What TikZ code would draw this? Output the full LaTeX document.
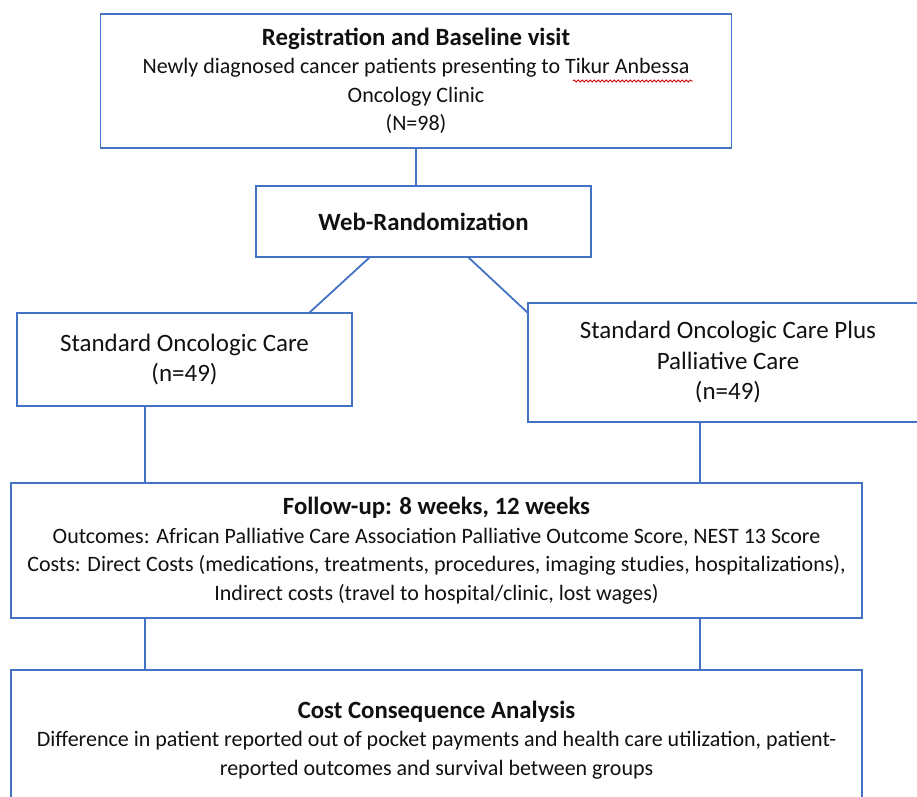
\documentclass[tikz,border=0pt]{standalone}
\usepackage{fontspec}
\setmainfont{Carlito}
\usetikzlibrary{calc,decorations.pathmorphing}
\definecolor{boxblue}{HTML}{4472C4}
\definecolor{txt}{HTML}{111111}
\newcommand{\ttl}[1]{{\fontsize{24.8}{31}\selectfont\textbf{#1}}}
\tikzset{
  flowbox/.style={draw=boxblue, line width=1.8pt, fill=white, inner sep=0pt, outer sep=0pt,
    align=center, text=txt, font=\fontsize{22}{28.5}\selectfont},
  armbox/.style={flowbox, font=\fontsize{25}{30.5}\selectfont},
  link/.style={draw=boxblue, line width=1.8pt}
}
\begin{document}
\begin{tikzpicture}[x=1pt,y=-1pt]
\useasboundingbox (0,0) rectangle (917,796);
\clip (0,0) rectangle (917,796);
\fill[white] (0,0) rectangle (917,796);

\node[flowbox, minimum width=631pt, minimum height=134pt] (top) at (416,81)
  {\ttl{Registration and Baseline visit}\\Newly diagnosed cancer patients presenting to Tikur Anbessa\\Oncology Clinic\\(N=98)};
\node[flowbox, minimum width=335pt, minimum height=71pt] (web) at (423.5,221.5)
  {\ttl{Web-Randomization}};
\node[armbox, minimum width=335pt, minimum height=93pt] (left) at (184.5,359.5)
  {Standard Oncologic Care\\(n=49)};
\node[armbox, minimum width=400pt, minimum height=119pt] (right) at (728,362.5)
  {Standard Oncologic Care Plus\\Palliative Care\\(n=49)};
\node[flowbox, minimum width=851pt, minimum height=135pt] (fu) at (436.5,550.5)
  {\ttl{Follow-up: 8 weeks, 12 weeks}\\Outcomes: African Palliative Care Association Palliative Outcome Score, NEST 13 Score\\Costs: Direct Costs (medications, treatments, procedures, imaging studies, hospitalizations),\\Indirect costs (travel to hospital/clinic, lost wages)};
\node[flowbox, minimum width=851pt, minimum height=140pt] (bot) at (436.5,740)
  {\ttl{Cost Consequence Analysis}\\Difference in patient reported out of pocket payments and health care utilization, patient-\\reported outcomes and survival between groups};

% spell-check underline
\draw[red!80!black, line width=0.8pt, decorate, decoration={snake, amplitude=1.1pt, segment length=4pt}]
  ($(top.north west)+(472.5,67)$) -- ($(top.north west)+(592.5,67)$);

% connectors
\draw[link] (top.south) -- (top.south |- web.north);
\draw[link] ($(web.south west)+(114,0)$) -- ($(left.north west)+(292,0)$);
\draw[link] ($(web.south west)+(212,0)$) -- ($(right.north west)+(0,10)$);
\draw[link] ($(left.south west)+(128,0)$) coordinate (l1) -- (l1 |- fu.north);
\draw[link] ($(right.south west)+(172,0)$) coordinate (r1) -- (r1 |- fu.north);
\draw[link] (l1 |- fu.south) -- (l1 |- bot.north);
\draw[link] (r1 |- fu.south) -- (r1 |- bot.north);
\end{tikzpicture}
\end{document}
